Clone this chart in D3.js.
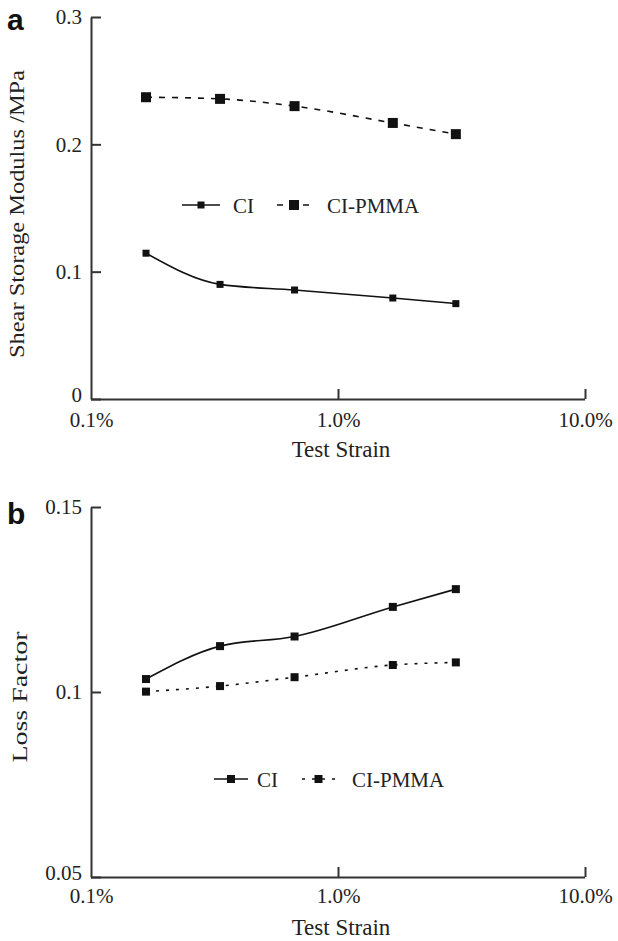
<!DOCTYPE html>
<html>
<head>
<meta charset="utf-8">
<script src="https://cdn.jsdelivr.net/npm/d3@7"></script>
<style>
  body { margin: 0; background: #fff; }
  svg text { font-family: "Liberation Serif", "Times New Roman", serif; fill: #222; }
  .axis path, .axis line { stroke: #333; stroke-width: 2px; }
  .axis text { font-size: 21px; }
</style>
</head>
<body>
<script>
// test strain in %
var strain = [0.167, 0.333, 0.667, 1.667, 3.0];

// shear storage modulus, MPa
var storageCI = [0.1145, 0.090, 0.0856, 0.0793, 0.0749];
var storagePMMA = [0.237, 0.2357, 0.230, 0.2168, 0.208];

// loss factor
var lossCI = [0.1035, 0.1124, 0.115, 0.123, 0.1278];
var lossPMMA = [0.1001, 0.1016, 0.104, 0.1073, 0.108];

var seriesNames = ['CI', 'CI-PMMA'];
var xTicks = [0.1, 1, 10];
var storageTicks = [0, 0.1, 0.2, 0.3];
var lossTicks = [0.05, 0.1, 0.15];

var width = 618;
var height = 941;

var svg = d3.select('body')
    .append('svg')
    .attr('width', width)
    .attr('height', height);

function pts(values) {
    return strain.map(function (s, i) { return { x: s, y: values[i] }; });
}

function drawPanel(opt) {
    var x = d3.scaleLog().domain([0.1, 10]).range([91, 585]);
    var y = d3.scaleLinear().domain(opt.domain).range(opt.range);
    var g = svg.append('g');

    // panel letter
    g.append('text')
        .attr('x', 7)
        .attr('y', opt.letterY)
        .style('font-family', '"Liberation Sans", Arial, sans-serif')
        .style('font-weight', 'bold')
        .style('font-size', '30px')
        .style('fill', '#111')
        .text(opt.letter);

    // x axis, ticks pointing up
    var xAxis = g.append('g')
        .attr('class', 'axis')
        .attr('transform', 'translate(0,' + opt.range[0] + ')')
        .call(d3.axisBottom(x)
            .tickValues(xTicks)
            .tickSizeInner(-10)
            .tickSizeOuter(0)
            .tickPadding(opt.xPad)
            .tickFormat(function (d) { return d3.format('.1f')(d) + '%'; }));
    xAxis.select('.domain').attr('d', 'M91,0.5H585');
    xAxis.selectAll('.tick').filter(function (d) { return d === 0.1; }).select('line').remove();

    // y axis, ticks pointing right
    var yAxis = g.append('g')
        .attr('class', 'axis')
        .attr('transform', 'translate(91,0)')
        .call(d3.axisLeft(y)
            .tickValues(opt.ticks)
            .tickSizeInner(-10)
            .tickSizeOuter(0)
            .tickPadding(9)
            .tickFormat(function (d) { return String(d); }));
    // lowest label sits just above the x labels
    yAxis.selectAll('.tick').filter(function (d) { return d === opt.domain[0]; })
        .select('text').attr('dy', '0.12em');

    // axis titles
    g.append('text')
        .attr('x', 341)
        .attr('y', opt.range[0] + 58)
        .attr('text-anchor', 'middle')
        .style('font-size', '23px')
        .text('Test Strain');

    g.append('text')
        .attr('transform', 'translate(' + opt.titleX + ',' + opt.titleY + ') rotate(-90)')
        .attr('text-anchor', 'middle')
        .attr('textLength', opt.titleLen)
        .attr('lengthAdjust', 'spacingAndGlyphs')
        .style('font-size', '22px')
        .text(opt.title);

    var line = d3.line()
        .curve(d3.curveMonotoneX)
        .x(function (d) { return x(d.x); })
        .y(function (d) { return y(d.y); });

    var series = [
        { name: seriesNames[0], values: opt.ci, dash: null, size: opt.sizeCI },
        { name: seriesNames[1], values: opt.pmma, dash: opt.dash, size: opt.sizePMMA }
    ];

    series.forEach(function (s) {
        g.append('path')
            .datum(pts(s.values))
            .attr('d', line)
            .attr('fill', 'none')
            .attr('stroke', '#111')
            .attr('stroke-width', 1.6)
            .attr('stroke-dasharray', s.dash);

        g.selectAll(null)
            .data(pts(s.values))
            .enter()
            .append('rect')
            .attr('x', function (d) { return x(d.x) - s.size / 2; })
            .attr('y', function (d) { return y(d.y) - s.size / 2; })
            .attr('width', s.size)
            .attr('height', s.size)
            .attr('fill', '#111');
    });

    // legend
    var lg = g.append('g').attr('transform', 'translate(0,' + opt.legendY + ')');
    var items = [
        { x1: opt.legend[0], x2: opt.legend[1], tx: opt.legend[2], s: series[0] },
        { x1: opt.legend[3], x2: opt.legend[4], tx: opt.legend[5], s: series[1] }
    ];
    items.forEach(function (it) {
        lg.append('line')
            .attr('x1', it.x1).attr('x2', it.x2)
            .attr('y1', 0).attr('y2', 0)
            .attr('stroke', '#111')
            .attr('stroke-width', 1.6)
            .attr('stroke-dasharray', it.s.dash);
        lg.append('rect')
            .attr('x', (it.x1 + it.x2) / 2 - it.s.size / 2)
            .attr('y', -it.s.size / 2)
            .attr('width', it.s.size)
            .attr('height', it.s.size)
            .attr('fill', '#111');
        lg.append('text')
            .attr('x', it.tx)
            .attr('y', 8)
            .style('font-size', '21px')
            .text(it.s.name);
    });
}

drawPanel({
    letter: 'a', letterY: 30,
    domain: [0, 0.3], range: [399, 17], ticks: storageTicks,
    ci: storageCI, pmma: storagePMMA,
    sizeCI: 7, sizePMMA: 10, dash: '6,7', xPad: 13,
    title: 'Shear Storage Modulus /MPa', titleX: 24, titleY: 214, titleLen: 288,
    legendY: 205, legend: [182, 220, 233, 277, 311, 327]
});

drawPanel({
    letter: 'b', letterY: 524,
    domain: [0.05, 0.15], range: [877, 507], ticks: lossTicks,
    ci: lossCI, pmma: lossPMMA,
    sizeCI: 8, sizePMMA: 8, dash: '3,7', xPad: 11,
    title: 'Loss Factor', titleX: 27, titleY: 697, titleLen: 131,
    legendY: 779, legend: [214, 248, 257, 302, 335, 352]
});
</script>
</body>
</html>
